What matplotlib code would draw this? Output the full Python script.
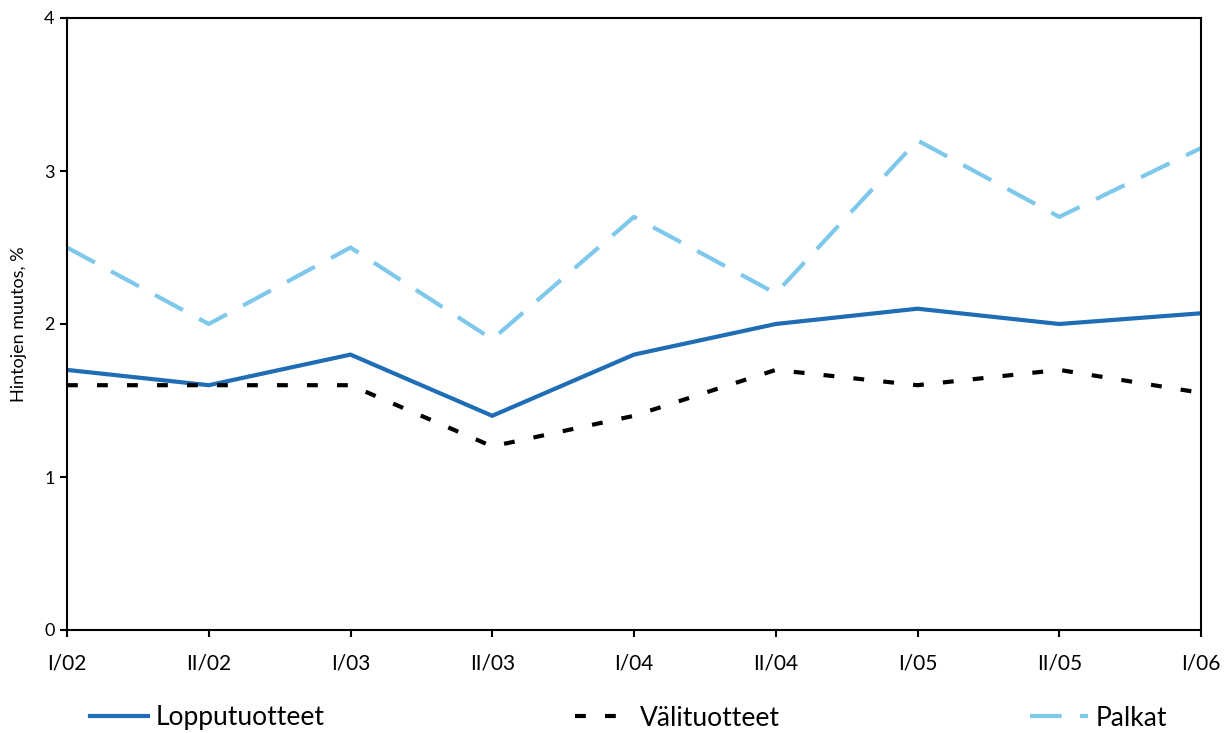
import matplotlib
matplotlib.use("Agg")
import matplotlib.pyplot as plt

plt.rcParams['font.family'] = ['Lato', 'DejaVu Sans']

categories = ["I/02", "II/02", "I/03", "II/03", "I/04", "II/04", "I/05", "II/05", "I/06"]
lopputuotteet = [1.7, 1.6, 1.8, 1.4, 1.8, 2.0, 2.1, 2.0, 2.07]
valituotteet = [1.6, 1.6, 1.6, 1.2, 1.4, 1.7, 1.6, 1.7, 1.55]
palkat = [2.5, 2.0, 2.5, 1.9, 2.7, 2.2, 3.2, 2.7, 3.15]
y_ticks = [0, 1, 2, 3, 4]

c_lop = "#1f6db5"
c_val = "#000000"
c_pal = "#7ec8ec"

fig = plt.figure(figsize=(12.3, 7.33), dpi=100)
ax = fig.add_axes([67/1230, 1 - 630/733, (1201-67)/1230, (630-18)/733])

x = list(range(len(categories)))
lw = 3.0
l1, = ax.plot(x, lopputuotteet, color=c_lop, lw=lw, solid_joinstyle='miter')
l2, = ax.plot(x, valituotteet, color=c_val, lw=lw, dashes=(2.6, 4.6), dash_capstyle='butt')
l3, = ax.plot(x, palkat, color=c_pal, lw=lw, dashes=(7.6, 4.4), dash_capstyle='butt')

ax.set_xlim(0, len(categories) - 1)
ax.set_ylim(0, 4)
ax.set_xticks(x)
ax.set_xticklabels(categories, fontsize=15)
ax.set_yticks(y_ticks)
ax.set_yticklabels([str(v) for v in y_ticks], fontsize=13)
ax.tick_params(axis='both', direction='out', length=5, width=1.5, color='black')
ax.tick_params(axis='x', pad=12)
ax.tick_params(axis='y', pad=4)
for s in ax.spines.values():
    s.set_linewidth(1.5)
    s.set_color('black')
ax.set_ylabel("Hintojen muutos, %", fontsize=13, labelpad=12)

handles = [l1, l2, l3]
labels = ["Lopputuotteet", "Välituotteet", "Palkat"]
xpos = [90/1230, 575/1230, 1030/1230]
for h, lab, xp in zip(handles, labels, xpos):
    fig.legend([h], [lab], loc='center left', bbox_to_anchor=(xp, 1 - 718/733),
               frameon=False, fontsize=19, handlelength=2.2, handletextpad=0.27,
               borderaxespad=0, borderpad=0)

fig.savefig("out.png", dpi=100)
